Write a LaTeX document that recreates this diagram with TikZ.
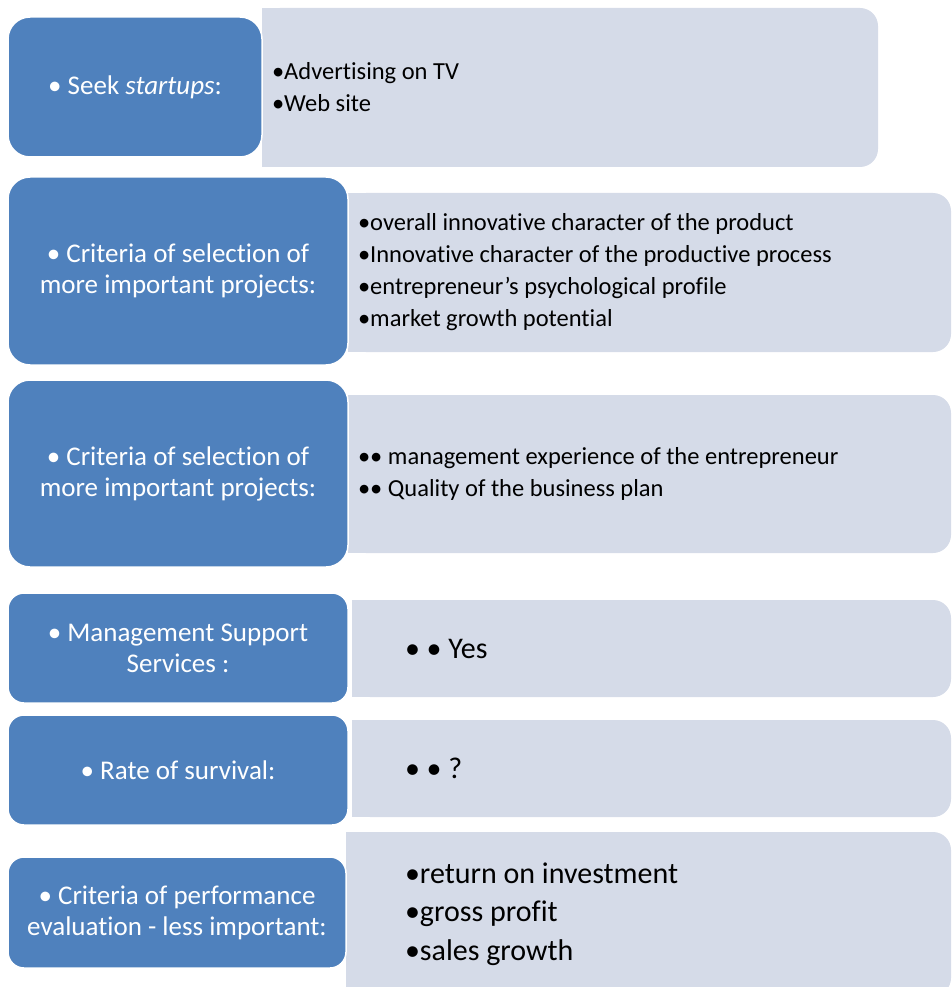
\documentclass[tikz,border=0pt]{standalone}
\usepackage{fontspec}
\setmainfont[Ligatures=NoCommon]{Carlito}
\usepackage{xcolor}
\usetikzlibrary{positioning}
\definecolor{boxblue}{RGB}{79,129,189}
\definecolor{panelgrey}{RGB}{213,219,232}
\tikzset{
    head/.style={rectangle, draw=white, line width=1.5pt, fill=boxblue, rounded corners=22pt, text=white, align=center, inner sep=0pt, font=\fontsize{27}{31}\selectfont},
    smallhead/.style={head, rounded corners=16pt},
    panel/.style={rectangle, fill=panelgrey, rounded corners=18pt, inner sep=0pt},
    list/.style={anchor=west, align=left, inner sep=0pt, font=\fontsize{24.5}{32}\selectfont},
    biglist/.style={list, font=\fontsize{30}{38.5}\selectfont}
}

\begin{document}
\begin{tikzpicture}[x=1pt, y=-1pt]

    \useasboundingbox (0,0) rectangle (952,987);
    \clip (0,0) rectangle (952,987);

    % --- GREY PANELS (right side) ---
    \node[panel, minimum width=616pt, minimum height=159pt] (P1) at (570,87.5) {};
    \node[panel, minimum width=603pt, minimum height=159pt] (P2) at (649.5,272.5) {};
    \node[panel, minimum width=603pt, minimum height=158pt] (P3) at (649.5,474) {};
    \node[panel, minimum width=599pt, minimum height=97pt] (P4) at (651.5,648.5) {};
    \node[panel, minimum width=599pt, minimum height=97pt] (P5) at (651.5,768.5) {};
    \node[panel, minimum width=605pt, minimum height=164pt] (P6) at (648.5,914) {};

    % square left corners
    \foreach \p in {P1,P2,P3,P4,P5,P6}
        \fill[panelgrey] (\p.south west) rectangle (\p.north);

    % Panel texts
    \node[list, right=10pt of P1.west] (L1) {•Advertising on TV\\•Web site};
    \node[list, right=10pt of P2.west] (L2) {•overall innovative character of the product\\•Innovative character of the productive process\\•entrepreneur’s psychological profile\\•market growth potential};
    \node[list, right=10pt of P3.west] (L3) {•• management experience of the entrepreneur\\•• Quality of the business plan};
    \node[biglist, right=53pt of P4.west] (L4) {• • Yes};
    \node[biglist, right=53pt of P5.west] (L5) {• • ?};
    \node[biglist, right=59pt of P6.west] (L6) {•return on investment\\•gross profit\\•sales growth};

    % --- BLUE HEADERS (left side) ---
    \node[head, minimum width=254pt, minimum height=140pt] (H1) at (135,87) {• Seek \textit{startups}:};
    \node[head, minimum width=340pt, minimum height=188pt] (H2) at (178,271) {• Criteria of selection of\\more important projects:};
    \node[head, minimum width=340pt, minimum height=187pt] (H3) at (178,473.5) {• Criteria of selection of\\more important projects:};
    \node[smallhead, minimum width=340pt, minimum height=110pt] (H4) at (178,648) {• Management Support\\Services :};
    \node[smallhead, minimum width=340pt, minimum height=110pt] (H5) at (178,770) {• Rate of survival:};
    \node[smallhead, minimum width=338pt, minimum height=111pt] (H6) at (177,912.5) {• Criteria of performance\\evaluation - less important:};

\end{tikzpicture}
\end{document}
